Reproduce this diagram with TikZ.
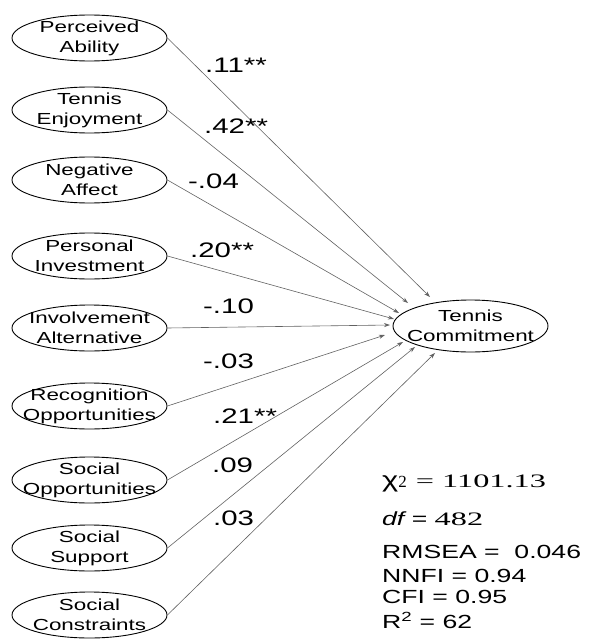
\documentclass[tikz,border=0pt]{standalone}
\usepackage{fontspec}
\setmainfont{Liberation Sans}
\newfontfamily\af{Liberation Sans}[FakeStretch=1.4]
\newfontfamily\tf{Liberation Serif}[FakeStretch=1.7]
\newfontfamily\tfn{Liberation Serif}
\usetikzlibrary{shapes.geometric,arrows.meta}
\begin{document}
\begin{tikzpicture}[x=1pt,y=-1pt,
  latent/.style={ellipse, draw=black, line width=0.9pt, minimum width=155pt, minimum height=46pt, inner sep=0pt},
  ltext/.style={inner sep=0pt, align=center, font=\af\fontsize{16}{20}\selectfont},
  pathline/.style={draw=black!62, line width=0.6pt, -{Stealth[length=6pt,width=4pt]}},
  coef/.style={anchor=base west, inner sep=0pt, font=\af\fontsize{21}{21}\selectfont},
  stat/.style={anchor=base west, inner sep=0pt, font=\af\fontsize{19}{19}\selectfont}]
\useasboundingbox (0,0) rectangle (598,642);

% left latent variables
\node[latent] (pa) at (89.5,38) {};  \node[ltext] (paT) at (pa) {Perceived\\Ability};
\node[latent] (te) at (89.5,110) {}; \node[ltext] (teT) at (te) {Tennis\\Enjoyment};
\node[latent] (na) at (89.5,180) {}; \node[ltext] (naT) at (na) {Negative\\Affect};
\node[latent] (pi) at (89.5,256) {}; \node[ltext] (piT) at (pi) {Personal\\Investment};
\node[latent] (ia) at (89.5,328) {}; \node[ltext] (iaT) at (ia) {Involvement\\Alternative};
\node[latent] (ro) at (89.5,406) {}; \node[ltext] (roT) at (ro) {Recognition\\Opportunities};
\node[latent] (so) at (89.5,480) {}; \node[ltext] (soT) at (so) {Social\\Opportunities};
\node[latent] (ss) at (89.5,548) {}; \node[ltext] (ssT) at (ss) {Social\\Support};
\node[latent] (sc) at (89.5,615) {}; \node[ltext] (scT) at (sc) {Social\\Constraints};

% outcome
\node[latent, minimum height=52pt] (tc) at (470.5,326) {};
\node[ltext] (tcT) at (tc) {Tennis\\Commitment};

% arrow tips
\coordinate (t1) at (430,297);
\coordinate (t2) at (408,303);
\coordinate (t3) at (399,313);
\coordinate (t4) at (394,319);
\coordinate (t5) at (390,325);
\coordinate (t6) at (385,335);
\coordinate (t7) at (403,342);
\coordinate (t8) at (415,347);
\coordinate (t9) at (435,353);

\draw[pathline] (pa.east) -- (t1);
\draw[pathline] (te.east) -- (t2);
\draw[pathline] (na.east) -- (t3);
\draw[pathline] (pi.east) -- (t4);
\draw[pathline] (ia.east) -- (t5);
\draw[pathline] (ro.east) -- (t6);
\draw[pathline] (so.east) -- (t7);
\draw[pathline] (ss.east) -- (t8);
\draw[pathline] (sc.east) -- (t9);

% coefficients
\node[coef] (c1) at (205,72) {.11**};
\node[coef] (c2) at (204,133) {.42**};
\node[coef] (c3) at (188,188) {-.04};
\node[coef] (c4) at (190,257) {.20**};
\node[coef] (c5) at (203,313) {-.10};
\node[coef] (c6) at (203,368) {-.03};
\node[coef] (c7) at (213,423) {.21**};
\node[coef] (c8) at (212,472) {.09};
\node[coef] (c9) at (213,525) {.03};

% fit statistics
\node[stat] (s1) at (382,487) {{\fontsize{22}{22}\selectfont χ}{\tfn\fontsize{17}{17}\selectfont 2}\hspace{9pt}{\tf = 1101.13}};
\node[stat] (s2) at (382,525) {{\itshape df} = {\tf 482}};
\node[stat] (s3) at (382,558) {RMSEA =\ \ 0.046};
\node[stat] (s4) at (382,582) {NNFI = 0.94};
\node[stat] (s5) at (382,603) {CFI = 0.95};
\node[stat] (s6) at (382,628) {R\textsuperscript{2} = 62};
\end{tikzpicture}
\end{document}
